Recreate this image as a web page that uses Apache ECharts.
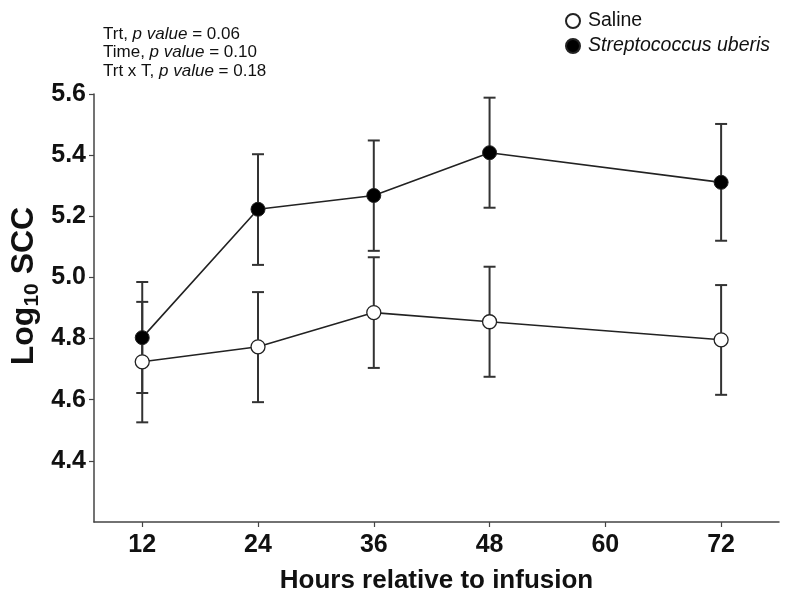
<!DOCTYPE html>
<html>
<head>
<meta charset="utf-8">
<script src="https://cdn.jsdelivr.net/npm/echarts@6/dist/echarts.min.js"></script>
<style>
  html, body { margin: 0; padding: 0; background: #fff; }
  #chart { width: 785px; height: 599px; }
</style>
</head>
<body>
<div id="chart"></div>
<script>
// hours after infusion
const hours = [12, 24, 36, 48, 72];
// saline group: mean and error bar ends
const salineMean = [4.724, 4.773, 4.885, 4.855, 4.796];
const salineLow = [4.526, 4.592, 4.704, 4.675, 4.616];
const salineHigh = [4.920, 4.952, 5.066, 5.035, 4.975];
// S. uberis group
const strepMean = [4.803, 5.223, 5.268, 5.408, 5.311];
const strepLow = [4.622, 5.041, 5.087, 5.228, 5.120];
const strepHigh = [4.985, 5.403, 5.448, 5.588, 5.502];
// tick labels
const xTicks = [12, 24, 36, 48, 60, 72];
const yTicks = [4.4, 4.6, 4.8, 5.0, 5.2, 5.4, 5.6];
const pLines = [['Trt', '0.06'], ['Time', '0.10'], ['Trt x T', '0.18']];

const FONT = '"Liberation Sans", Arial, sans-serif';
const INK = '#222';

const chart = echarts.init(document.getElementById('chart'));

function errorBars(low, high) {
  return {
    type: 'custom',
    z: 2,
    silent: true,
    encode: { x: 0, y: [1, 2] },
    data: hours.map((h, i) => [h, low[i], high[i]]),
    renderItem(params, api) {
      const top = api.coord([api.value(0), api.value(2)]);
      const bot = api.coord([api.value(0), api.value(1)]);
      const w = 6;
      const st = { stroke: '#333', lineWidth: 2 };
      return {
        type: 'group',
        children: [
          { type: 'line', shape: { x1: top[0], y1: top[1], x2: bot[0], y2: bot[1] }, style: st },
          { type: 'line', shape: { x1: top[0] - w, y1: top[1], x2: top[0] + w, y2: top[1] }, style: st },
          { type: 'line', shape: { x1: bot[0] - w, y1: bot[1], x2: bot[0] + w, y2: bot[1] }, style: st }
        ]
      };
    }
  };
}

const option = {
  animation: false,
  textStyle: { fontFamily: FONT },
  grid: { left: 94, right: 6, top: 94, bottom: 72 },
  legend: {
    orient: 'vertical',
    left: 560,
    top: 6,
    itemGap: 5,
    icon: 'circle',
    itemWidth: 14,
    itemHeight: 14,
    data: ['Saline', 'Streptococcus uberis'],
    formatter: name => name === 'Saline' ? name : '{i|' + name + '}',
    textStyle: {
      fontFamily: FONT,
      fontSize: 19.5,
      color: '#111',
      padding: [0, 0, 0, 3],
      rich: { i: { fontStyle: 'italic', fontSize: 19.5, fontFamily: FONT, color: '#111' } }
    }
  },
  graphic: [
    {
      type: 'text',
      left: 103,
      top: 25,
      style: {
        text: pLines.map(p => p[0] + ', {i|p value} = ' + p[1]).join('\n'),
        fontFamily: FONT,
        fontSize: 17,
        lineHeight: 18.5,
        fill: '#111',
        rich: { i: { fontStyle: 'italic', fontSize: 17, lineHeight: 18.5, fontFamily: FONT } }
      }
    },
    {
      type: 'text',
      x: 24,
      y: 286,
      rotation: Math.PI / 2,
      style: {
        text: '{m|Log}{s|10}{m| SCC}',
        align: 'center',
        verticalAlign: 'middle',
        fill: '#111',
        rich: {
          m: { fontSize: 32, fontWeight: 'bold', fontFamily: FONT, lineHeight: 38 },
          s: { fontSize: 21, fontWeight: 'bold', fontFamily: FONT, verticalAlign: 'bottom', lineHeight: 38, padding: [12, 0, 0, 0] }
        }
      }
    }
  ],
  xAxis: {
    type: 'value',
    min: 7,
    max: 78,
    name: 'Hours relative to infusion',
    nameLocation: 'middle',
    nameGap: 46,
    nameTextStyle: { fontSize: 26, fontWeight: 'bold', color: '#111', fontFamily: FONT },
    splitLine: { show: false },
    axisLine: { lineStyle: { color: '#444', width: 1.5 } },
    axisTick: { customValues: xTicks, length: 5, lineStyle: { color: '#444', width: 1.2 } },
    axisLabel: { customValues: xTicks, fontSize: 25, fontWeight: 'bold', color: '#111', margin: 11 }
  },
  yAxis: {
    type: 'value',
    min: 4.2,
    max: 5.6,
    splitLine: { show: false },
    axisLine: { show: true, lineStyle: { color: '#444', width: 1.5 } },
    axisTick: { show: true, customValues: yTicks, length: 5, lineStyle: { color: '#444', width: 1.2 } },
    axisLabel: {
      customValues: yTicks,
      fontSize: 25,
      fontWeight: 'bold',
      color: '#111',
      margin: 8,
      formatter: v => v.toFixed(1)
    }
  },
  series: [
    errorBars(salineLow, salineHigh),
    errorBars(strepLow, strepHigh),
    {
      name: 'Saline',
      type: 'line',
      z: 3,
      data: hours.map((h, i) => [h, salineMean[i]]),
      symbol: 'circle',
      symbolSize: 14,
      lineStyle: { color: INK, width: 1.6 },
      itemStyle: { color: '#fff', borderColor: INK, borderWidth: 1.3 }
    },
    {
      name: 'Streptococcus uberis',
      type: 'line',
      z: 3,
      data: hours.map((h, i) => [h, strepMean[i]]),
      symbol: 'circle',
      symbolSize: 14,
      lineStyle: { color: INK, width: 1.6 },
      itemStyle: { color: '#000', borderColor: INK, borderWidth: 1 }
    }
  ]
};

chart.setOption(option);
window.addEventListener('resize', () => chart.resize());
</script>
</body>
</html>
